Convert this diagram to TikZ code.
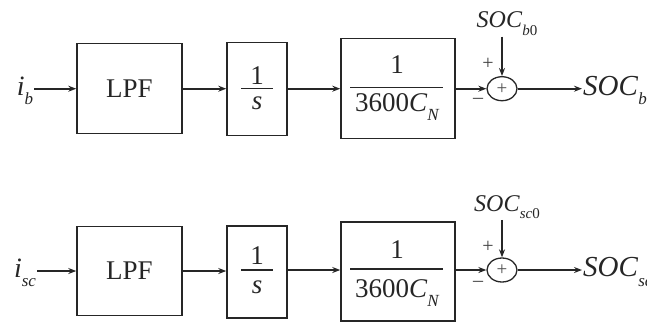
\documentclass[tikz,border=0pt]{standalone}
\usepackage{fontspec}
\setmainfont{Liberation Serif}
\usetikzlibrary{arrows.meta,shapes.geometric}
\newcommand\subtx[1]{\raisebox{-0.32em}{\fontsize{17}{17}\selectfont\itshape #1}}
\newcommand\subsm[1]{\raisebox{-0.3em}{\fontsize{15}{15}\selectfont\itshape #1}}
\begin{document}
\begin{tikzpicture}[x=1pt,y=-1pt,
  blk/.style={draw=black!85, line width=1.5pt, inner sep=0pt},
  sumnode/.style={draw=black!85, ellipse, minimum width=30pt, minimum height=24pt, inner sep=0pt, line width=1.3pt, font=\fontsize{19}{19}\selectfont, text=black!70},
  conn/.style={draw=black!85, line width=1.6pt, -{Stealth[length=8pt,width=6pt]}},
  lbl/.style={inner sep=0pt, text=black!85, font=\fontsize{27}{27}\selectfont},
  inlbl/.style={inner sep=1pt, text=black!85, font=\fontsize{28}{28}\selectfont},
  outlbl/.style={inner sep=1pt, anchor=west, text=black!85, font=\fontsize{29}{29}\selectfont},
  initlbl/.style={inner sep=1pt, text=black!85, font=\fontsize{24}{24}\selectfont},
  sign/.style={inner sep=0pt, text=black!75, font=\fontsize{20}{20}\selectfont},
  bar/.style={draw=black!85, line width=1.3pt}]
\useasboundingbox (0,0) rectangle (647,322);

% ---------- top row ----------
\begin{scope}[yshift=-0.7pt]
\node[inlbl] (ib) at (25,90) {\textit{i}\subtx{b}};
\node[blk, minimum width=105pt, minimum height=90pt] (lpf1) at (129.5,88) {};
\node[lbl] (lpft1) at (lpf1.center) {LPF};
\node[blk, minimum width=60pt, minimum height=93pt] (int1) at (257,88.5) {};
\node[lbl] (intn1) at (257,75) {1};
\node[lbl] (intd1) at (257,103) {\textit{s}};
\coordinate (ib1a) at (241,88);
\coordinate (ib1b) at (273,88);
\draw[bar] (ib1a) -- (ib1b);
\node[blk, minimum width=114pt, minimum height=100pt] (gain1) at (398,88) {};
\node[lbl] (gn1) at (397,64) {1};
\node[lbl] (gd1) at (397,106) {3600\textit{C}\subtx{N}};
\coordinate (gb1a) at (350,87);
\coordinate (gb1b) at (443,87);
\draw[bar] (gb1a) -- (gb1b);
\node[sumnode] (sum1) at (502,88) {+};
\node[initlbl] (soc01) at (507,23) {\textit{SOC}\subsm{b}\subsm{\upshape 0}};
\node[outlbl] (soc1) at (582,90) {\textit{SOC}\subtx{b}};
\node[sign] (p1) at (488,63) {+};
\node[sign] (m1) at (478,100) {\textendash};

\draw[conn] (ib.east |- lpf1.west) -- (lpf1.west);
\draw[conn] (lpf1.east) -- (int1.west |- lpf1.east);
\draw[conn] (int1.east |- gain1.west) -- (gain1.west);
\draw[conn] (gain1.east) -- (sum1.west);
\draw[conn] (sum1.north |- soc01.south) -- (sum1.north);
\draw[conn] (sum1.east) -- (soc1.west |- sum1.east);
\end{scope}

% ---------- bottom row ----------
\node[inlbl] (isc) at (25,273) {\textit{i}\subtx{sc}};
\node[blk, minimum width=105pt, minimum height=89pt] (lpf2) at (129.5,271) {};
\node[lbl] (lpft2) at (lpf2.center) {LPF};
\node[blk, minimum width=60pt, minimum height=92pt] (int2) at (257,272) {};
\node[lbl] (intn2) at (257,256) {1};
\node[lbl] (intd2) at (257,287) {\textit{s}};
\coordinate (ib2a) at (241,270);
\coordinate (ib2b) at (273,270);
\draw[bar] (ib2a) -- (ib2b);
\node[blk, minimum width=114pt, minimum height=99pt] (gain2) at (398,271.5) {};
\node[lbl] (gn2) at (397,250) {1};
\node[lbl] (gd2) at (397,293) {3600\textit{C}\subtx{N}};
\coordinate (gb2a) at (350,269);
\coordinate (gb2b) at (443,269);
\draw[bar] (gb2a) -- (gb2b);
\node[sumnode] (sum2) at (502,270) {+};
\node[initlbl] (soc02) at (507,207) {\textit{SOC}\subsm{sc}\subsm{\upshape 0}};
\node[outlbl] (soc2) at (582,272) {\textit{SOC}\subtx{sc}};
\node[sign] (p2) at (488,247) {+};
\node[sign] (m2) at (478,284) {\textendash};

\draw[conn] (isc.east |- lpf2.west) -- (lpf2.west);
\draw[conn] (lpf2.east) -- (int2.west |- lpf2.east);
\draw[conn] (int2.east |- sum2.west) -- (gain2.west |- sum2.west);
\draw[conn] (gain2.east |- sum2.west) -- (sum2.west);
\draw[conn] (sum2.north |- soc02.south) -- (sum2.north);
\draw[conn] (sum2.east) -- (soc2.west |- sum2.east);
\end{tikzpicture}
\end{document}
